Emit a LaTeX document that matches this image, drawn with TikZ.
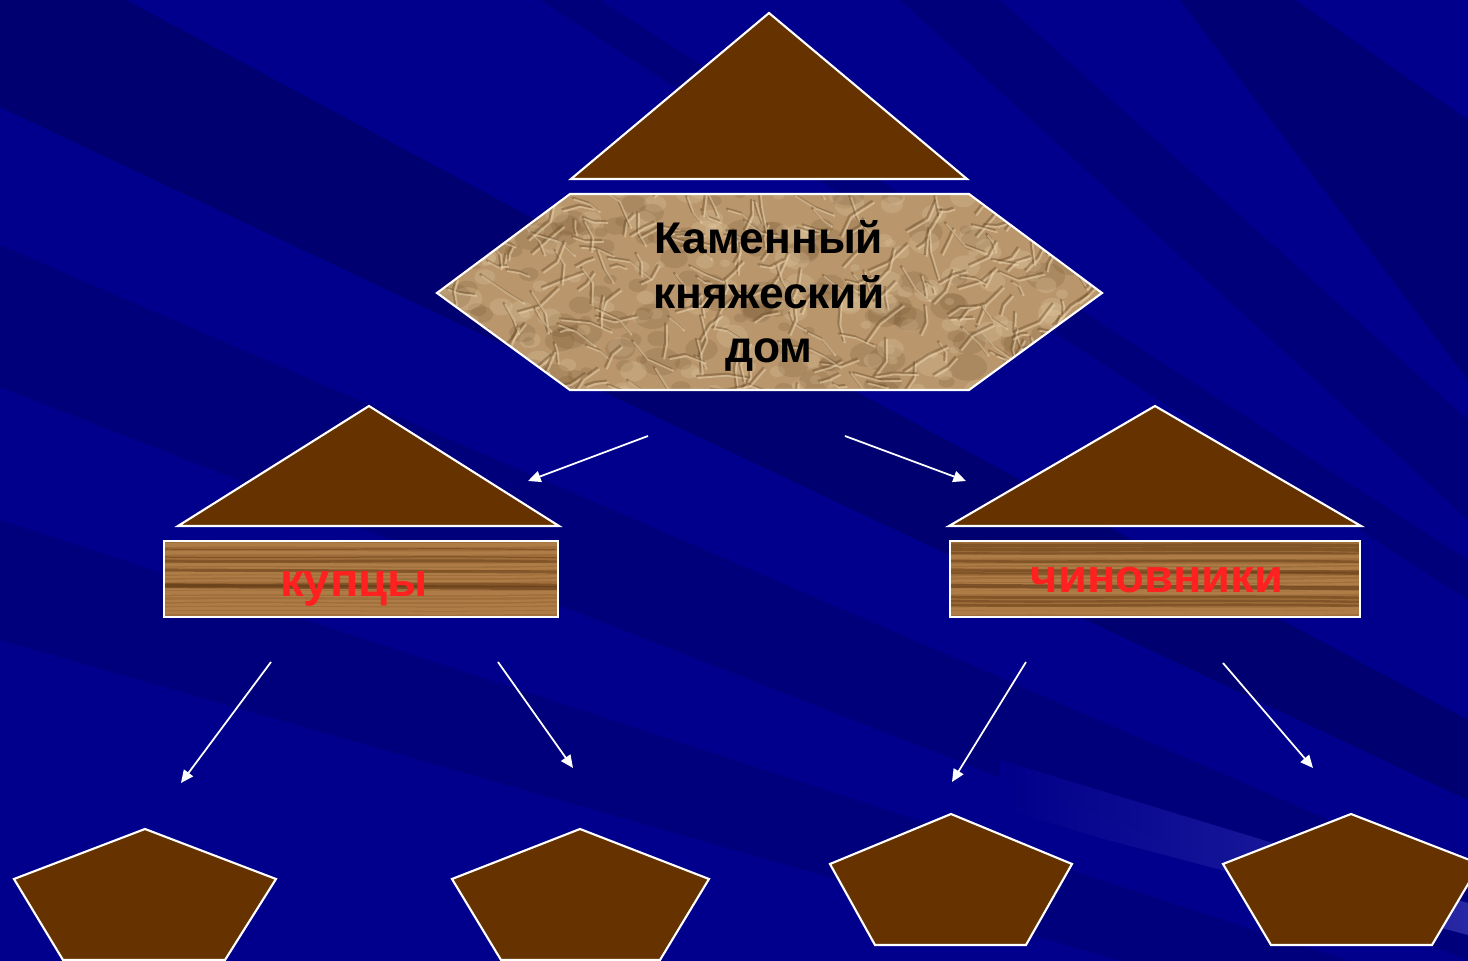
\documentclass[tikz,border=0pt]{standalone}
\usepackage{fontspec}
\setmainfont{Liberation Sans}
\usetikzlibrary{arrows.meta}
\definecolor{bgblue}{RGB}{0,0,140}
\definecolor{bgdark}{RGB}{0,0,108}
\definecolor{bglight}{RGB}{45,45,170}
\definecolor{roof}{RGB}{102,51,0}
\definecolor{paper}{RGB}{185,150,108}
\definecolor{paperdark}{RGB}{110,80,45}
\definecolor{paperlight}{RGB}{232,210,172}
\definecolor{wood}{RGB}{160,110,58}
\definecolor{wooddark}{RGB}{95,55,20}
\definecolor{woodlight}{RGB}{195,145,90}
\definecolor{redtext}{RGB}{255,32,32}
\tikzset{
  roofshape/.style={fill=roof, draw=white, line width=0.6pt, line join=miter},
  outline/.style={draw=white, line width=0.6pt},
  link/.style={draw=white, line width=0.5pt, -{Triangle[length=3.6pt,width=3.2pt]}},
  hextext/.style={align=center, font=\fontsize{12.6}{15.6}\selectfont\bfseries, text=black, inner sep=0pt},
  redlabel/.style={font=\fontsize{13.4}{16}\selectfont\bfseries, text=redtext, inner sep=0pt, anchor=base},
  band/.style={fill=bgdark, draw=none}
}
\begin{document}
\begin{tikzpicture}[x=0.01cm,y=-0.01cm]
\useasboundingbox (0,0) rectangle (1468,961);
\begin{scope}
\clip (0,0) rectangle (1468,961);
% background
\fill[bgblue] (0,0) rectangle (1468,961);
\fill[band, opacity=0.85] (126,0) -- (1468,720) -- (1468,800) -- (0,107) -- (0,0) -- cycle;
\fill[band, opacity=0.55] (0,245) -- (1468,880) -- (1468,960) -- (0,387) -- cycle;
\fill[band, opacity=0.45] (0,520) -- (1468,1000) -- (1468,1060) -- (0,640) -- cycle;
\fill[band, opacity=0.7] (1295,0) -- (1468,120) -- (1468,380) -- (1180,0) -- cycle;
\fill[band, opacity=0.5] (1000,0) -- (1468,420) -- (1468,520) -- (900,0) -- cycle;
\fill[band, opacity=0.5] (600,0) -- (1468,560) -- (1468,600) -- (540,0) -- cycle;
\shade[left color=bgblue, right color=bglight, opacity=0.9] (1000,760) -- (1273,843) -- (1468,903) -- (1468,935) -- (1100,838) -- (1000,808) -- cycle;

% top roof
\path[roofshape] (769,13) coordinate (topApex) -- (967,179) -- (571,179) -- cycle;

% hexagon with crumpled paper texture
\begin{scope}
\clip (570,194) -- (969,194) -- (1102,293) -- (969,390) -- (570,390) -- (437,293) -- cycle;
\fill[paper] (437,194) rectangle (1102,390);
\pgfmathsetseed{11}
\foreach \i in {1,...,160}{
  \pgfmathsetmacro\px{437+rnd*665}
  \pgfmathsetmacro\py{190+rnd*205}
  \pgfmathsetmacro\pr{0.06+rnd*0.14}
  \fill[paperdark, opacity=0.18] (\px,\py) ellipse [x radius=\pr cm, y radius=0.7*\pr cm];
  \pgfmathsetmacro\qx{437+rnd*665}
  \pgfmathsetmacro\qy{190+rnd*205}
  \fill[paperlight, opacity=0.22] (\qx,\qy) ellipse [x radius=0.8*\pr cm, y radius=0.6*\pr cm];
}
\foreach \i in {1,...,260}{
  \pgfmathsetmacro\px{437+rnd*665}
  \pgfmathsetmacro\py{190+rnd*205}
  \pgfmathsetmacro\pa{rnd*360}
  \pgfmathsetmacro\pl{8+rnd*22}
  \pgfmathsetmacro\pb{\pa+rnd*80-40}
  \draw[paperdark, line width=0.6pt, opacity=0.45, line join=round] (\px,\py) -- ++(\pa:\pl) -- ++(\pb:\pl*0.8);
  \draw[paperlight, line width=0.5pt, opacity=0.55, line join=round] (\px+2,\py+2) -- ++(\pa:\pl) -- ++(\pb:\pl*0.8);
}
\end{scope}
\path[outline] (570,194) -- (969,194) -- (1102,293) -- (969,390) -- (570,390) -- (437,293) -- cycle;
\node[hextext] (prince) at (769,296) {Каменный\\княжеский\\дом};

% left roof and box
\path[roofshape] (369,406) -- (559,526) -- (178,526) -- cycle;
\begin{scope}
\clip (164,541) rectangle (558,617);
\fill[wood] (164,541) rectangle (558,617);
\pgfmathsetseed{5}
\foreach \yy in {545,549,...,615}{
  \pgfmathsetmacro\c{rnd}
  \pgfmathsetmacro\w{0.3+rnd*0.9}
  \ifdim\c pt<0.35pt
    \draw[wooddark, line width=\w pt, opacity=0.45] (160,\yy) .. controls (300,\yy+2) and (420,\yy-2) .. (562,\yy+1);
  \else
    \draw[woodlight, line width=\w pt, opacity=0.4] (160,\yy) .. controls (300,\yy-2) and (420,\yy+2) .. (562,\yy-1);
  \fi
}
\draw[wooddark, line width=1.2pt, opacity=0.6] (160,586) -- (562,588);
\draw[wooddark, line width=0.9pt, opacity=0.5] (160,570) -- (562,572);
\end{scope}
\path[outline] (164,541) rectangle (558,617);
\node[redlabel] (merchants) at (354,597) {купцы};

% right roof and box
\path[roofshape] (1155,406) -- (1361,526) -- (949,526) -- cycle;
\begin{scope}
\clip (950,541) rectangle (1360,617);
\fill[wood] (950,541) rectangle (1360,617);
\pgfmathsetseed{9}
\foreach \yy in {545,549,...,615}{
  \pgfmathsetmacro\c{rnd}
  \pgfmathsetmacro\w{0.3+rnd*0.9}
  \ifdim\c pt<0.35pt
    \draw[wooddark, line width=\w pt, opacity=0.45] (946,\yy) .. controls (1090,\yy+2) and (1220,\yy-2) .. (1364,\yy+1);
  \else
    \draw[woodlight, line width=\w pt, opacity=0.4] (946,\yy) .. controls (1090,\yy-2) and (1220,\yy+2) .. (1364,\yy-1);
  \fi
}
\draw[wooddark, line width=1.2pt, opacity=0.6] (946,586) -- (1364,588);
\draw[wooddark, line width=0.9pt, opacity=0.5] (946,570) -- (1364,572);
\end{scope}
\path[outline] (950,541) rectangle (1360,617);
\node[redlabel] (officials) at (1157,593) {чиновники};

% bottom pentagons
\path[roofshape] (145,829) -- (276,879) -- (225,960) -- (63,960) -- (14,879) -- cycle;
\path[roofshape] (580,829) -- (709,879) -- (660,960) -- (501,960) -- (452,879) -- cycle;
\path[roofshape] (951,814) -- (1072,864) -- (1026,945) -- (875,945) -- (830,864) -- cycle;
\path[roofshape] (1351,814) -- (1480,864) -- (1432,945) -- (1271,945) -- (1223,864) -- cycle;

% arrow end points
\coordinate (a1s) at (648,436); \coordinate (a1e) at (528,481);
\coordinate (a2s) at (845,436); \coordinate (a2e) at (966,481);
\coordinate (a3s) at (271,662); \coordinate (a3e) at (181,783);
\coordinate (a4s) at (498,662); \coordinate (a4e) at (573,768);
\coordinate (a5s) at (1026,662); \coordinate (a5e) at (952,782);
\coordinate (a6s) at (1223,663); \coordinate (a6e) at (1313,768);
\draw[link] (a1s) -- (a1e);
\draw[link] (a2s) -- (a2e);
\draw[link] (a3s) -- (a3e);
\draw[link] (a4s) -- (a4e);
\draw[link] (a5s) -- (a5e);
\draw[link] (a6s) -- (a6e);
\end{scope}
\end{tikzpicture}
\end{document}
